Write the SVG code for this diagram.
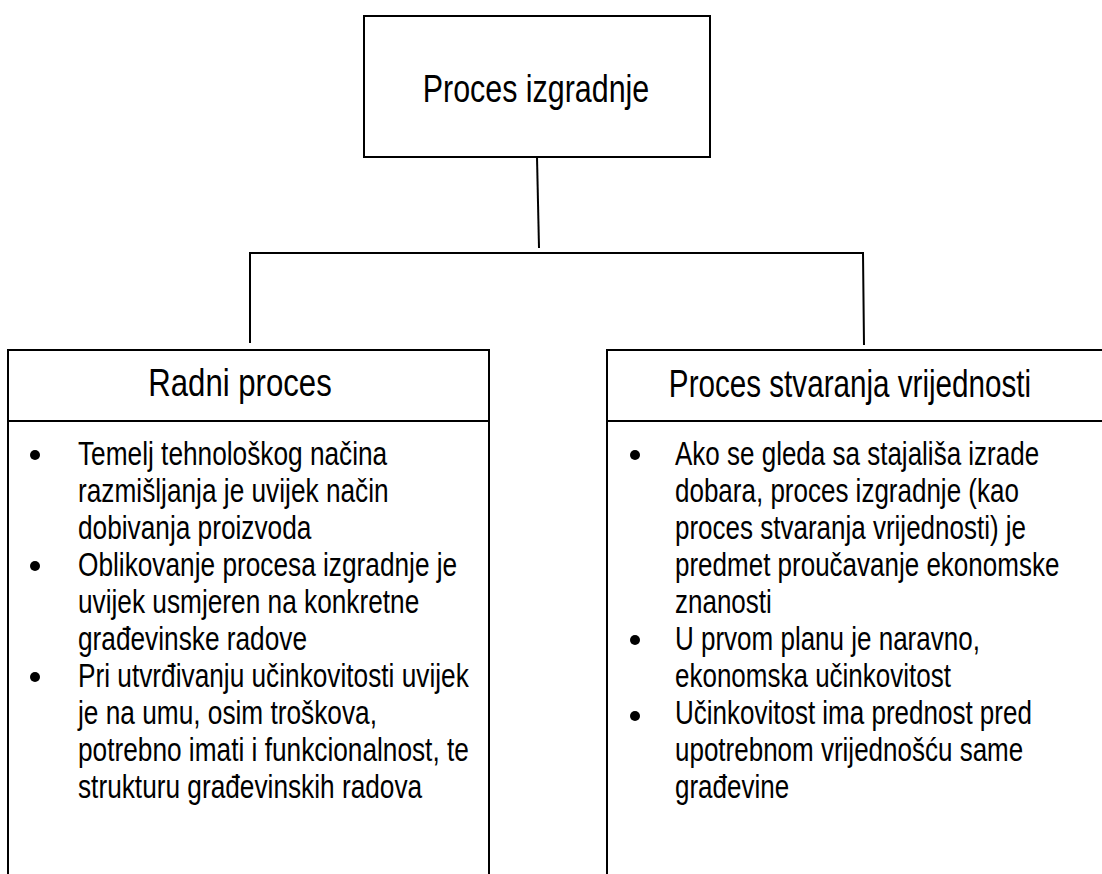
<svg xmlns="http://www.w3.org/2000/svg" width="1102" height="874" viewBox="0 0 1102 874">
<style>
.box{fill:#fff;stroke:#000;stroke-width:2}
.ln{fill:none;stroke:#000;stroke-width:2}
.t{font-family:"Liberation Sans",Arial,sans-serif;fill:#000}
.h{text-anchor:middle;font-size:38px}
.b{font-size:34px}
.dot{fill:#000}
</style>
<rect width="1102" height="874" fill="#fff"/>
<g id="connectors">
<line class="ln" x1="537" y1="157" x2="539" y2="248"/>
<polyline class="ln" points="250,343 250,253 863,253 864,345"/>
</g>
<g id="node-top">
<rect class="box" x="364" y="16" width="346" height="141"/>
<g transform="translate(536,0) scale(0.8,1)"><text class="t h" x="0" y="102">Proces izgradnje</text></g>
</g>
<g id="node-left">
<rect class="box" x="8" y="350" width="481" height="540"/>
<line class="ln" x1="8" y1="421" x2="489" y2="421"/>
<g transform="translate(240,0) scale(0.82,1)"><text class="t h" x="0" y="396">Radni proces</text></g>
<circle class="dot" cx="35" cy="455" r="5"/>
<circle class="dot" cx="35" cy="566" r="5"/>
<circle class="dot" cx="35" cy="677" r="5"/>
<g transform="translate(78,0) scale(0.772,1)">
<text class="t b" x="0" y="465">Temelj tehnološkog načina</text>
<text class="t b" x="0" y="502">razmišljanja je uvijek način</text>
<text class="t b" x="0" y="539">dobivanja proizvoda</text>
<text class="t b" x="0" y="576">Oblikovanje procesa izgradnje je</text>
<text class="t b" x="0" y="613">uvijek usmjeren na konkretne</text>
<text class="t b" x="0" y="650">građevinske radove</text>
<text class="t b" x="0" y="687">Pri utvrđivanju učinkovitosti uvijek</text>
<text class="t b" x="0" y="724">je na umu, osim troškova,</text>
<text class="t b" x="0" y="761">potrebno imati i funkcionalnost, te</text>
<text class="t b" x="0" y="798">strukturu građevinskih radova</text>
</g>
</g>
<g id="node-right">
<rect class="box" x="607" y="350" width="500" height="540"/>
<line class="ln" x1="607" y1="421" x2="1104" y2="421"/>
<g transform="translate(850,0) scale(0.78,1)"><text class="t h" x="0" y="397">Proces stvaranja vrijednosti</text></g>
<circle class="dot" cx="635" cy="455" r="5"/>
<circle class="dot" cx="635" cy="640" r="5"/>
<circle class="dot" cx="635" cy="716" r="5"/>
<g transform="translate(675,0) scale(0.765,1)">
<text class="t b" x="0" y="465">Ako se gleda sa stajališa izrade</text>
<text class="t b" x="0" y="502">dobara, proces izgradnje (kao</text>
<text class="t b" x="0" y="539">proces stvaranja vrijednosti) je</text>
<text class="t b" x="0" y="576">predmet proučavanje ekonomske</text>
<text class="t b" x="0" y="613">znanosti</text>
<text class="t b" x="0" y="650">U prvom planu je naravno,</text>
<text class="t b" x="0" y="687">ekonomska učinkovitost</text>
<text class="t b" x="0" y="724">Učinkovitost ima prednost pred</text>
<text class="t b" x="0" y="761">upotrebnom vrijednošću same</text>
<text class="t b" x="0" y="798">građevine</text>
</g>
</g>
</svg>
